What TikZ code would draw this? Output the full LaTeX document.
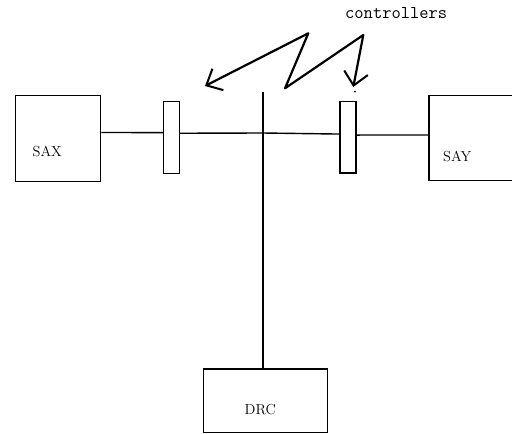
\documentclass[tikz,border=0pt]{standalone}
\usetikzlibrary{arrows.meta}
\begin{document}
\begin{tikzpicture}[x=1pt,y=-1pt,
  box/.style={draw, line width=1.4pt, inner sep=0pt, anchor=north west},
  ctrl/.style={draw, line width=1.4pt, inner sep=0pt, anchor=north west, minimum width=16pt, minimum height=71.5pt},
  wire/.style={line width=1.4pt},
  lbl/.style={font=\fontsize{14.5}{17}\selectfont, inner sep=0pt, anchor=base west},
  zig/.style={line width=2.2pt, line join=round, line cap=round},
  barbtip/.tip={Straight Barb[length=13pt,width=24pt,line width=2pt]}]
\clip (0,0) rectangle (512,434);
% boxes
\node[box, minimum width=85pt, minimum height=85.5pt] (sax) at (15,95) {};
\node[box, minimum width=100pt, minimum height=85pt] (say) at (428.3,95) {};
\node[box, minimum width=124pt, minimum height=63.5pt] (drc) at (202.7,368.3) {};
\node[ctrl] (ctlL) at (162.8,101) {};
\node[ctrl] (ctlR) at (339.3,100.8) {};
% labels
\node[lbl] (saxl) at (32.5,156.7) {SAX};
\node[lbl] (sayl) at (443,161.7) {SAY};
\node[lbl] (drcl) at (244.5,414) {DRC};
\node[font=\ttfamily\fontsize{18}{20}\selectfont, inner sep=0pt, anchor=base west] (ctltxt) at (345,18.5) {controllers};
% wires
\coordinate (top) at (262.8,92);
\coordinate (jn) at (262.8,133);
\draw[wire] ([yshift=6pt]sax.east) -- ([yshift=4.8pt]ctlL.west);
\draw[wire] ([yshift=4.2pt]ctlL.east) -- (jn);
\draw[wire] (jn) -- ([yshift=3.2pt]ctlR.west);
\draw[wire] ([yshift=2.2pt]ctlR.east) -- ([yshift=3.2pt]say.west);
\draw[wire] (top) -- (top |- drc.north);
% zigzag arrow
\coordinate (tipA) at (205,86);
\coordinate (pkA) at (308.3,33.3);
\coordinate (vb) at (285,88.3);
\coordinate (pkB) at (363.3,35);
\coordinate (tipB) at (353.3,87);
\draw[zig, barbtip-barbtip] (tipA) -- (pkA) -- (vb) -- (pkB) -- (tipB);
\fill (355,91.7) circle (1pt);
\end{tikzpicture}
\end{document}
